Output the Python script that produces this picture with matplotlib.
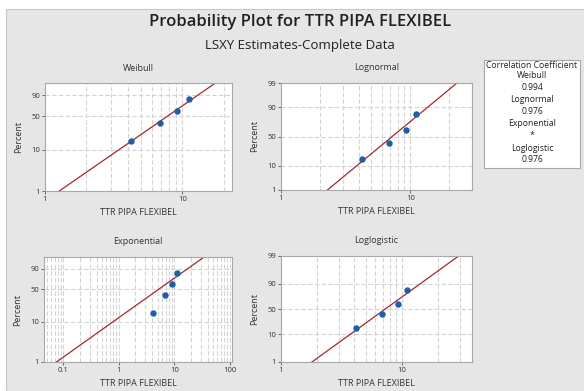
import numpy as np
import matplotlib
matplotlib.use('Agg')
import matplotlib.pyplot as plt
from matplotlib.ticker import LogLocator, FixedLocator, NullFormatter, FixedFormatter
from statistics import NormalDist

plt.rcParams['font.family'] = ['Open Sans', 'DejaVu Sans']

# data
ttr = [4.2, 6.9, 9.2, 11.1]
percent = [15.9, 38.6, 61.4, 84.1]

# fitted distributions (LSXY)
weibull_shape, weibull_scale = 2.34, 9.07
lognorm_loc, lognorm_scale = 1.98, 0.496
expo_mean = 7.5
loglog_loc, loglog_scale = 1.986, 0.304

corr_names = ['Weibull', 'Lognormal', 'Exponential', 'Loglogistic']
corr_values = ['0.994', '0.976', '*', '0.976']

bg = '#e6e6e6'
blue = '#1f5fa8'
red = '#a3282b'
gridc = '#d4d4d4'


# probability scale transforms
def t_weibull(p):
    return np.log(-np.log(1 - np.atleast_1d(p) / 100.0))


def t_normal(p):
    return np.array([NormalDist().inv_cdf(v / 100.0) for v in np.atleast_1d(p)])


def t_logit(p):
    p = np.atleast_1d(p) / 100.0
    return np.log(p / (1 - p))


fig = plt.figure(figsize=(5.84, 3.91), dpi=100)
fig.patch.set_facecolor('white')
fig.add_artist(plt.Rectangle((6 / 584, 0), 1, (391 - 9) / 391, transform=fig.transFigure,
                             facecolor=bg, edgecolor='#c8c8c8', lw=0.8, zorder=-10))

fig.text(300 / 584, 1 - 22 / 391, 'Probability Plot for TTR PIPA FLEXIBEL', ha='center', va='center',
         fontsize=12, fontweight='semibold', color='#202020')
fig.text(300 / 584, 1 - 45 / 391, 'LSXY Estimates-Complete Data', ha='center', va='center',
         fontsize=9.5, color='#202020')


def panel(rect_px, title, transform, yticks, xlim, xlabels, fit_line):
    l, t, r, b = rect_px
    ax = fig.add_axes([l / 584, 1 - b / 391, (r - l) / 584, (b - t) / 391])
    ax.set_facecolor('white')
    ax.set_xscale('log')
    ax.set_xlim(*xlim)
    ax.set_ylim(transform(1)[0], transform(99)[0])
    ax.yaxis.set_major_locator(FixedLocator(transform(np.array(yticks, float))))
    ax.yaxis.set_major_formatter(FixedFormatter([str(v) for v in yticks]))
    ax.xaxis.set_major_locator(FixedLocator(xlabels))
    ax.xaxis.set_major_formatter(FixedFormatter([('%g' % v) for v in xlabels]))
    ax.xaxis.set_minor_locator(LogLocator(base=10, subs=np.arange(2, 10), numticks=20))
    ax.xaxis.set_minor_formatter(NullFormatter())
    ax.grid(True, which='both', axis='x', color=gridc, ls=(0, (4, 2)), lw=0.8)
    ax.grid(True, which='major', axis='y', color=gridc, ls=(0, (4, 2)), lw=0.8)
    ax.tick_params(which='major', length=2, width=0.6, labelsize=5.5, colors='#555555',
                   labelcolor='#333333', pad=1.5)
    ax.tick_params(which='minor', length=0)
    for s in ax.spines.values():
        s.set_color('#a8a8a8')
        s.set_linewidth(0.8)
    ax.set_axisbelow(True)

    # fitted line across the percent range
    pp = np.linspace(0.5, 99.5, 200)
    ax.plot(fit_line(pp), transform(pp), color=red, lw=0.9)
    ax.plot(ttr, transform(np.array(percent)), 'o', color=blue, ms=3.6, mec=blue)

    ax.set_title(title, fontsize=6.5, color='#333333', pad=9)
    ax.set_ylabel('Percent', fontsize=6.5, color='#333333', labelpad=6)
    ax.set_xlabel('TTR PIPA FLEXIBEL', fontsize=6.5, color='#333333', labelpad=4)
    return ax


panel((45, 83, 232, 191), 'Weibull', t_weibull, [1, 10, 50, 90], (1, 23), [1, 10],
      lambda p: weibull_scale * np.exp(t_weibull(p) / weibull_shape))
panel((281, 83, 472, 190), 'Lognormal', t_normal, [1, 10, 50, 90, 99], (1, 30), [1, 10],
      lambda p: np.exp(lognorm_loc + lognorm_scale * t_normal(p)))
panel((44, 257, 232, 362), 'Exponential', t_weibull, [1, 10, 50, 90], (0.045, 110),
      [0.1, 1, 10, 100], lambda p: expo_mean * np.exp(t_weibull(p)))
panel((281, 256, 472, 362), 'Loglogistic', t_logit, [1, 10, 50, 90, 99], (1, 38), [1, 10],
      lambda p: np.exp(loglog_loc + loglog_scale * t_logit(p)))

# correlation coefficient box
fig.add_artist(plt.Rectangle((484 / 584, 1 - 168 / 391), 96 / 584, 108 / 391,
                             transform=fig.transFigure, facecolor='white',
                             edgecolor='#a8a8a8', lw=0.8))
lines = ['Correlation Coefficient']
for n, v in zip(corr_names, corr_values):
    lines += [n, v]
ys = [65, 76, 88, 100, 112, 124, 135, 148, 159]
for txt, y in zip(lines, ys):
    fig.text(532 / 584, 1 - y / 391, txt, ha='center', va='center', fontsize=6.2, color='#222222')

fig.savefig('out.png', dpi=100, facecolor=fig.get_facecolor())
